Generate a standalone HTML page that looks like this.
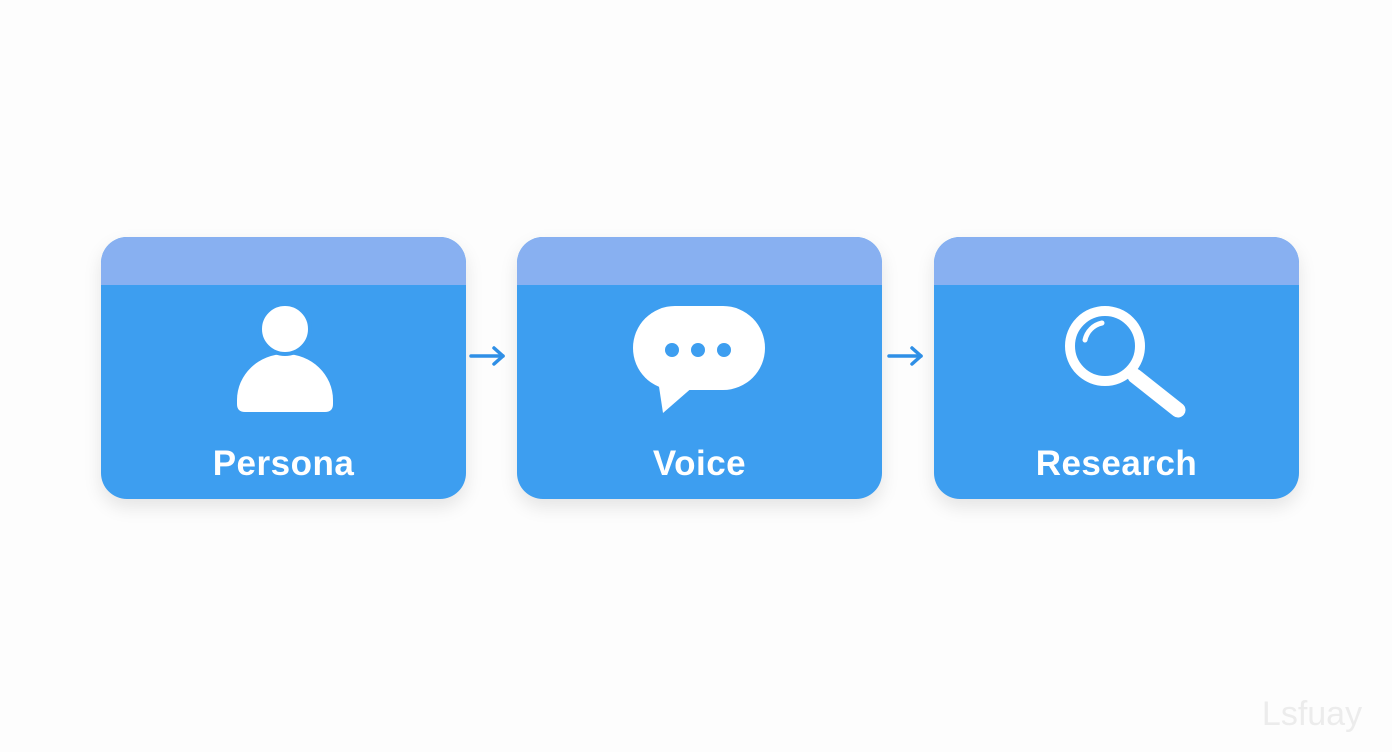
<!DOCTYPE html>
<html><head><style>
body{margin:0;width:1392px;height:752px;background:#fdfdfd;position:relative;overflow:hidden;font-family:"Liberation Sans",sans-serif}
.box{position:absolute;top:237px;width:365px;height:262px;border-radius:26px;background:#3d9ef0;overflow:hidden;box-shadow:0 8px 18px rgba(0,0,0,0.10)}
.hd{position:absolute;left:0;top:0;right:0;height:48px;background:#88b0f1}
.lb{position:absolute;left:0;right:0;top:444px;text-align:center;color:#fff;font-size:35px;font-weight:bold;letter-spacing:0.5px}
svg{position:absolute;left:0;top:0}
</style></head><body>
<div class="box" style="left:101px"><div class="hd"></div></div>
<div class="box" style="left:517px"><div class="hd"></div></div>
<div class="box" style="left:934px"><div class="hd"></div></div>
<svg width="1392" height="752">
<path d="M237 404 L237 400 A48 46 0 0 1 333 400 L333 404 Q333 412 325 412 L245 412 Q237 412 237 404Z" fill="#fff"/>
<circle cx="285" cy="329" r="25" fill="#fff" stroke="#3d9ef0" stroke-width="4"/>
<rect x="633" y="306" width="132" height="84" rx="42" fill="#fff"/>
<path d="M658 380 L663 413 L694 386Z" fill="#fff"/>
<circle cx="672" cy="350" r="7" fill="#3d9ef0"/><circle cx="698" cy="350" r="7" fill="#3d9ef0"/><circle cx="724" cy="350" r="7" fill="#3d9ef0"/>
<circle cx="1105" cy="346" r="35" fill="none" stroke="#fff" stroke-width="10"/>
<path d="M1085 340 A22 22 0 0 1 1102 323" fill="none" stroke="#fff" stroke-width="5" stroke-linecap="round"/>
<line x1="1135" y1="376" x2="1178" y2="410" stroke="#fff" stroke-width="15" stroke-linecap="round"/>
<g stroke="#2f8fe6" stroke-width="3.5" fill="none" stroke-linecap="round" stroke-linejoin="round">
<line x1="471" y1="356" x2="503" y2="356"/><path d="M494 348 L503 356 L494 364"/>
<line x1="889" y1="356" x2="921" y2="356"/><path d="M912 348 L921 356 L912 364"/>
</g>
<text x="1312" y="725" text-anchor="middle" font-family="Liberation Sans" font-size="34" fill="#ececec">Lsfuay</text>
</svg>
<div class="lb" style="left:101px;width:365px;position:absolute">Persona</div>
<div class="lb" style="left:517px;width:365px;position:absolute">Voice</div>
<div class="lb" style="left:934px;width:365px;position:absolute">Research</div>
</body></html>
